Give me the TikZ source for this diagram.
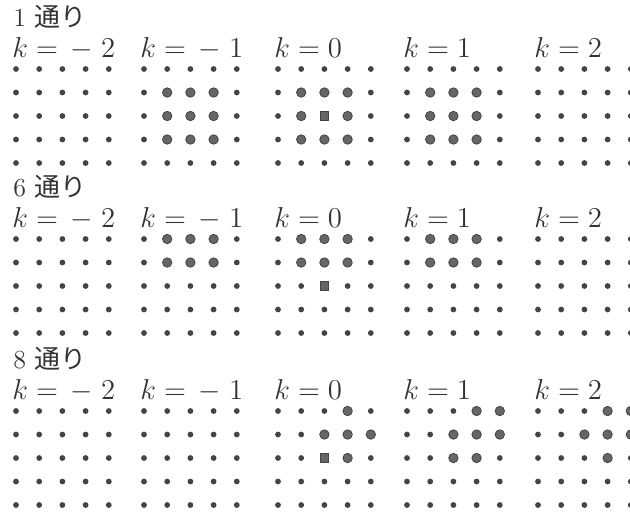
\documentclass[tikz,border=0pt]{standalone}
\usepackage{fontspec}
\newfontfamily\jpfont{Noto Sans CJK JP}
\usetikzlibrary{positioning}
\definecolor{ink}{HTML}{333333}
\definecolor{dotgray}{HTML}{444444}
\definecolor{biggray}{HTML}{666666}
\tikzset{
  smalldot/.style={circle,fill=dotgray,inner sep=0pt,minimum size=2.9pt},
  bigdot/.style={circle,fill=biggray,draw=dotgray,line width=0.4pt,inner sep=0pt,minimum size=4.7pt},
  centresq/.style={rectangle,fill=biggray,draw=dotgray,line width=0.4pt,inner sep=0pt,minimum size=4.2pt},
  klabel/.style={anchor=base west,inner sep=0pt,text height=9pt,font=\fontsize{13.5}{16}\selectfont,text=ink},
  grouplabel/.style={anchor=base west,inner sep=0pt,text depth=1.5pt,font=\fontsize{13}{15}\selectfont,text=ink}
}
\newcommand\markbig[3]{\foreach \rr/\cc in {#3}{\expandafter\gdef\csname big@#1@#2@\rr @\cc\endcsname{}}}
\markbig{1}{2}{2/2,2/3,2/4,3/2,3/3,3/4,4/2,4/3,4/4}
\markbig{1}{3}{2/2,2/3,2/4,3/2,3/4,4/2,4/3,4/4}
\markbig{1}{4}{2/2,2/3,2/4,3/2,3/3,3/4,4/2,4/3,4/4}
\markbig{2}{2}{1/2,1/3,1/4,2/2,2/3,2/4}
\markbig{2}{3}{1/2,1/3,1/4,2/2,2/3,2/4}
\markbig{2}{4}{1/2,1/3,1/4,2/2,2/3,2/4}
\markbig{3}{3}{1/4,2/3,2/4,2/5,3/4}
\markbig{3}{4}{1/4,1/5,2/3,2/4,2/5,3/3,3/4}
\markbig{3}{5}{1/4,1/5,2/3,2/4,2/5,3/4}
\begin{document}
\begin{tikzpicture}[x=0.5pt,y=-0.5pt]
  \useasboundingbox (0,0) rectangle (630,516);
  \foreach \grp/\gy/\gname in {1/69/1,2/239/6,3/411/8}{
    \node[grouplabel] (g\grp) at (13,{\gy-43}) {\gname\ {\jpfont 通り}};
    \foreach \lay/\kx/\ktext in {1/16/{\,-\;2},2/144/{\,-\;1},3/278/0,4/407/1,5/538/2}{
      \node[klabel] (k\grp\lay) at ({\kx-4},{\gy-12}) {$k=\ktext$};
      \foreach \rr in {1,...,5}{
        \foreach \cc in {1,...,5}{
          \def\dotstyle{smalldot}
          \ifcsname big@\grp @\lay @\rr @\cc\endcsname\def\dotstyle{bigdot}\fi
          \ifnum\lay=3 \ifnum\rr=3 \ifnum\cc=3 \def\dotstyle{centresq}\fi\fi\fi
          \node[\dotstyle] (d\grp\lay\rr\cc) at ({\kx+23.2*(\cc-1)},{\gy+23.5*(\rr-1)}) {};
        }
      }
    }
  }
\end{tikzpicture}
\end{document}
